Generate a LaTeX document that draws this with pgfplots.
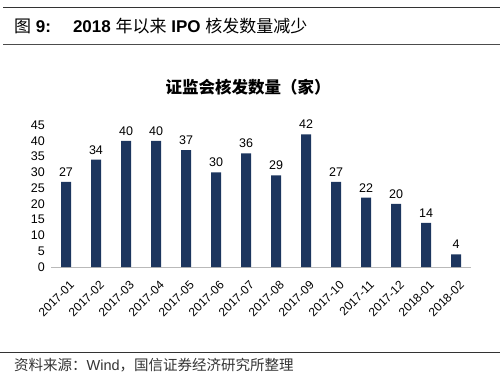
\documentclass[border=0pt]{standalone}
\usepackage{fontspec}
\setmainfont{Liberation Sans}
\newfontfamily\cjk{Noto Sans CJK SC}
\usepackage{pgfplots}
\pgfplotsset{compat=1.18}
\definecolor{barc}{HTML}{1C355E}
\begin{document}
\begin{tikzpicture}[x=1pt,y=1pt]
\path[use as bounding box] (0,0) rectangle (500,381);
\draw[line width=1pt, black!80] (3,373) -- (500,373);
\draw[line width=0.9pt, black!70] (3,337) -- (500,337);
\node[anchor=west, font=\fontsize{17}{20}\selectfont, inner sep=0] at (14,355)
  {{\cjk 图} \textbf{9:}\hspace{22pt}\textbf{2018} {\cjk 年以来} \textbf{IPO} {\cjk 核发数量减少}};
\node[font=\fontsize{16.5}{18}\selectfont\cjk\bfseries, inner sep=0] at (248,294) {证监会核发数量（家）};
\begin{axis}[
  at={(51pt,114pt)}, anchor=south west,
  scale only axis, width=420pt, height=142pt,
  xmin=-0.5, xmax=13.5, ymin=0, ymax=45,
  ybar, bar width=10pt,
  axis x line*=bottom, axis y line*=left,
  x axis line style={draw=gray!55, line width=0.8pt, -},
  y axis line style={draw=none},
  major tick length=0pt,
  ytick={0,5,...,45},
  xtick={0,...,13},
  xticklabels={2017-01,2017-02,2017-03,2017-04,2017-05,2017-06,2017-07,2017-08,2017-09,2017-10,2017-11,2017-12,2018-01,2018-02},
  /pgf/number format/assume math mode=true,
  yticklabel style={font=\fontsize{12.5}{13}\selectfont, inner sep=0pt, xshift=-6pt},
  xticklabel style={font=\fontsize{12}{13}\selectfont, anchor=east, inner sep=0pt, xshift=6pt, yshift=-16pt, rotate=45},
  nodes near coords,
  nodes near coords style={font=\fontsize{12.5}{13}\selectfont, /pgf/number format/assume math mode=true, yshift=2pt},
  clip=false,
]
\addplot[fill=barc, draw=none] coordinates {
(0,27) (1,34) (2,40) (3,40) (4,37) (5,30) (6,36) (7,29) (8,42) (9,27) (10,22) (11,20) (12,14) (13,4)};
\end{axis}
\draw[line width=1pt, black!80] (0,29) -- (500,29);
\node[anchor=west, font=\fontsize{14.5}{16}\selectfont, text=black!80, inner sep=0] at (14,16)
  {{\cjk 资料来源：}Wind{\cjk ，国信证券经济研究所整理}};
\end{tikzpicture}
\end{document}
